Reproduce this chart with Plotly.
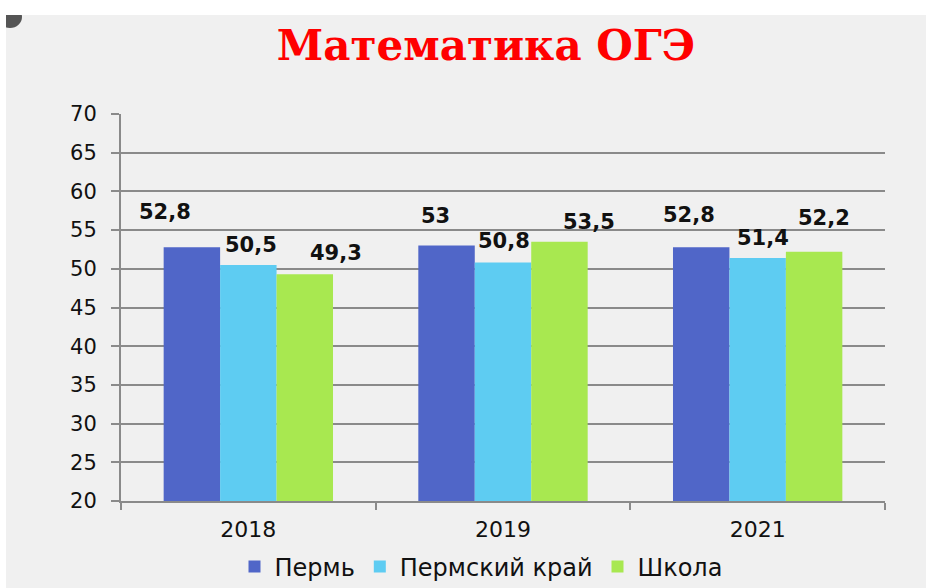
import plotly.graph_objects as go

years = ["2018", "2019", "2021"]
series_names = ["Пермь", "Пермский край", "Школа"]
perm = [52.8, 53.0, 52.8]
krai = [50.5, 50.8, 51.4]
school = [49.3, 53.5, 52.2]
label_texts = [["52,8", "53", "52,8"], ["50,5", "50,8", "51,4"], ["49,3", "53,5", "52,2"]]
colors = ["#5066C8", "#5ECCF2", "#A8E850"]

# label offsets (px) relative to bar top-centre, per series per year
label_dx = [[-27, -11, -12], [3, 1, 5], [31, 30, 10]]
label_dy = [[35, 30, 32], [20, 22, 20], [21, 20, 34]]

W, H = 926, 588
L, R, T, B = 121, 41, 114, 87
bargap = 0.335

fig = go.Figure()
values = [perm, krai, school]
for name, vals, col in zip(series_names, values, colors):
    fig.add_trace(go.Bar(x=years, y=vals, name=name, marker=dict(color=col, line=dict(width=0))))

bw = (1 - bargap) / 3
for j, vals in enumerate(values):
    for i, v in enumerate(vals):
        fig.add_annotation(x=i + (j - 1) * bw, y=v, xref="x", yref="y",
                           text=label_texts[j][i], showarrow=False,
                           xanchor="center", yanchor="middle",
                           xshift=label_dx[j][i], yshift=label_dy[j][i],
                           font=dict(family="DejaVu Sans", size=21, color="#111111", weight="bold"))

pw, ph = W - L - R, H - T - B
def px2x(px):
    return (px - L) / pw
def py2y(py):
    return (H - B - py) / ph

shapes = [
    dict(type="circle", xref="paper", yref="paper", x0=px2x(-2), x1=px2x(22), y0=py2y(28), y1=py2y(6),
         fillcolor="#3a3a3a", line=dict(width=0), opacity=0.85, layer="below"),
    dict(type="rect", xref="paper", yref="paper", x0=px2x(-5), x1=px2x(W + 5), y0=py2y(15), y1=py2y(-5),
         fillcolor="white", line=dict(width=0), layer="below"),
    dict(type="rect", xref="paper", yref="paper", x0=px2x(-5), x1=px2x(6), y0=py2y(H + 5), y1=py2y(-5),
         fillcolor="white", line=dict(width=0), layer="below"),
]

fig.update_layout(
    width=W, height=H,
    margin=dict(l=L, r=R, t=T, b=B, autoexpand=False),
    paper_bgcolor="#F0F0F0", plot_bgcolor="rgba(0,0,0,0)",
    barmode="group", bargap=bargap, bargroupgap=0,
    title=dict(text="Математика ОГЭ", x=486 / W, xanchor="center", y=1 - 45 / H, yanchor="middle",
               font=dict(family="DejaVu Serif", size=42, color="#FF0000", weight="bold")),
    shapes=shapes,
    legend=dict(orientation="h", x=px2x(481), xanchor="center", y=py2y(567), yanchor="middle",
                font=dict(family="DejaVu Sans", size=24, color="#111111"),
                bgcolor="rgba(0,0,0,0)", itemwidth=30, traceorder="normal"),
    showlegend=True,
)
fig.update_xaxes(type="category", showline=True, linecolor="#8A8A8A", linewidth=2,
                 ticks="outside", tickson="boundaries", ticklen=7, tickcolor="#8A8A8A", tickwidth=2,
                 ticklabelstandoff=8,
                 tickfont=dict(family="DejaVu Sans", size=22, color="#111111"), showgrid=False)
fig.update_yaxes(range=[20, 70], dtick=5, tick0=20, showline=True, linecolor="#8A8A8A", linewidth=2,
                 ticks="outside", ticklen=8, tickcolor="#8A8A8A", tickwidth=2,
                 ticklabelstandoff=10,
                 showgrid=True, gridcolor="#8A8A8A", gridwidth=1.5, zeroline=False,
                 tickfont=dict(family="DejaVu Sans", size=21, color="#111111"))

fig.write_html("out.html")
